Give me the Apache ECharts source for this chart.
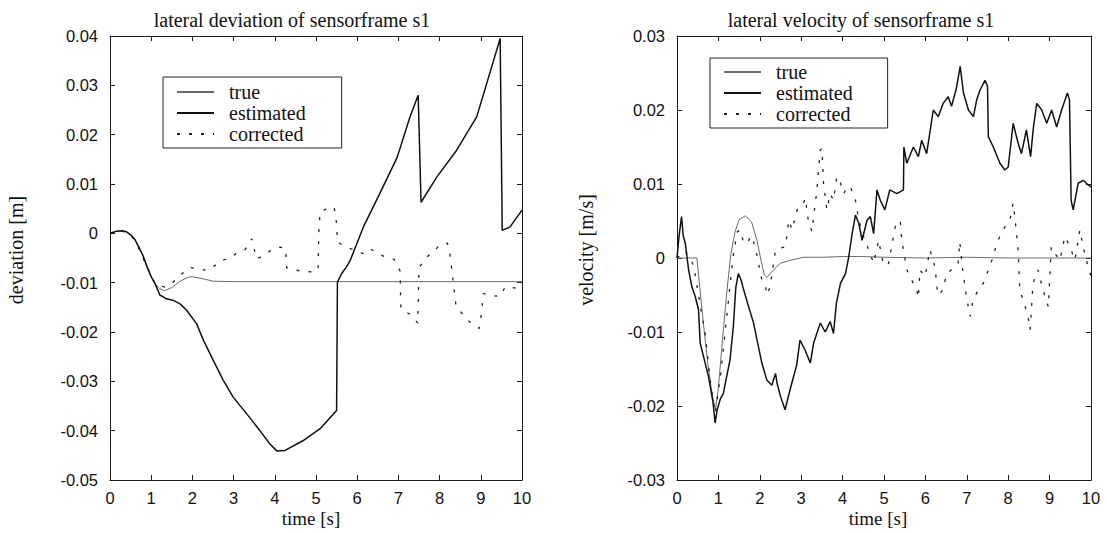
<!DOCTYPE html>
<html>
<head>
<meta charset="utf-8">
<script src="https://cdn.jsdelivr.net/npm/echarts@6/dist/echarts.min.js"></script>
<style>
html,body{margin:0;padding:0;background:#fff;}
#chart{width:1107px;height:533px;}
</style>
</head>
<body>
<div id="chart"></div>
<script>
// ---------- tick labels ----------
const timeTickLabels = ['0','1','2','3','4','5','6','7','8','9','10'];
const devTickLabels = ['-0.05','-0.04','-0.03','-0.02','-0.01','0','0.01','0.02','0.03','0.04'];
const velTickLabels = ['-0.03','-0.02','-0.01','0','0.01','0.02','0.03'];
const seriesNames = ['true','estimated','corrected'];

// ---------- left: lateral deviation ----------
const devTrueT = [0,0.15,0.3,0.4,0.5,0.6,0.7,0.8,0.9,1.0,1.1,1.2,1.33,1.5,1.7,1.9,2.0,2.2,2.5,3,4,5,6,7,8,9,10];
const devTrueV = [0,0.0004,0.0005,0.0003,-0.0003,-0.0012,-0.0028,-0.0045,-0.0068,-0.0088,-0.0103,-0.0112,-0.0116,-0.0110,-0.0097,-0.0089,-0.0088,-0.0091,-0.0097,-0.0098,-0.0098,-0.0098,-0.0098,-0.0098,-0.0098,-0.0098,-0.0098];

const devEstT = [0,0.15,0.3,0.4,0.5,0.6,0.7,0.8,0.9,1.0,1.1,1.21,1.35,1.54,1.7,1.86,2.1,2.27,2.51,2.75,2.99,3.32,3.64,3.88,4.05,4.25,4.69,5.1,5.5,5.52,5.62,5.74,5.83,6.15,6.55,6.97,7.28,7.48,7.55,7.93,8.41,8.9,9.47,9.52,9.71,10];
const devEstV = [0,0.0004,0.0005,0.0003,-0.0003,-0.0012,-0.0028,-0.0045,-0.0068,-0.0088,-0.0103,-0.0125,-0.0132,-0.0136,-0.0143,-0.0156,-0.0183,-0.0217,-0.0258,-0.0298,-0.0332,-0.0366,-0.0400,-0.0427,-0.0441,-0.0440,-0.0420,-0.0396,-0.0359,-0.0099,-0.0082,-0.0068,-0.0055,0.0013,0.0081,0.0154,0.0236,0.0280,0.0063,0.0114,0.0168,0.0236,0.0395,0.0006,0.0013,0.0047];

const devCorT = [0,0.3,0.6,0.9,1.1,1.33,1.5,1.7,1.94,2.18,2.38,2.55,2.69,2.91,3.11,3.28,3.44,3.5,3.54,3.72,3.92,4.13,4.26,4.29,4.47,4.65,4.88,5.05,5.07,5.1,5.26,5.44,5.5,5.52,5.74,6.15,6.31,6.55,6.72,6.9,7.04,7.06,7.32,7.47,7.5,7.69,7.89,8.01,8.19,8.25,8.4,8.68,8.82,8.96,9.02,9.06,9.26,9.47,9.59,9.77,9.91,10];
const devCorV = [0,0.0005,-0.0012,-0.0068,-0.0103,-0.0109,-0.0102,-0.0085,-0.0069,-0.0073,-0.0075,-0.0065,-0.0055,-0.0051,-0.0038,-0.0033,-0.0011,-0.0031,-0.0051,-0.0047,-0.0033,-0.0028,-0.0031,-0.0070,-0.0073,-0.0077,-0.0078,-0.0075,0.0006,0.0043,0.0050,0.0053,0.0020,-0.0018,-0.0028,-0.0041,-0.0031,-0.0043,-0.0049,-0.0053,-0.0076,-0.0153,-0.0166,-0.0182,-0.0070,-0.0048,-0.0034,-0.0023,-0.0020,-0.0041,-0.0148,-0.0176,-0.0185,-0.0193,-0.0160,-0.0122,-0.0126,-0.0128,-0.0109,-0.0110,-0.0112,-0.0110];

// ---------- right: lateral velocity ----------
const velTrueT = [0,0.48,0.55,0.65,0.75,0.85,0.93,1.0,1.1,1.2,1.3,1.4,1.5,1.65,1.8,1.93,2.01,2.11,2.17,2.33,2.5,2.74,3.06,3.5,4.03,4.5,5,6,7,8,9,10];
const velTrueV = [0,0,-0.004,-0.0095,-0.0145,-0.0185,-0.0205,-0.0175,-0.011,-0.0048,0.0005,0.0035,0.0052,0.0057,0.0049,0.0024,0.0002,-0.0023,-0.0026,-0.0016,-0.0007,-0.0003,0.0001,0.0001,0.0002,0.0002,0.0001,0,0.0001,0,0,0];

const velEstT = [0,0.05,0.11,0.15,0.2,0.28,0.36,0.44,0.52,0.56,0.64,0.76,0.87,0.92,0.97,1.05,1.12,1.2,1.28,1.36,1.42,1.48,1.55,1.61,1.73,1.85,1.93,2.05,2.17,2.29,2.38,2.42,2.5,2.61,2.73,2.89,2.97,3.09,3.22,3.3,3.46,3.58,3.7,3.78,3.85,3.95,4.07,4.15,4.23,4.31,4.39,4.47,4.59,4.67,4.75,4.83,4.91,5.02,5.14,5.31,5.47,5.48,5.55,5.71,5.83,5.91,6.03,6.19,6.31,6.43,6.55,6.63,6.74,6.84,6.92,7.04,7.16,7.24,7.32,7.44,7.5,7.52,7.64,7.8,7.92,8.0,8.12,8.24,8.32,8.44,8.54,8.61,8.69,8.81,8.93,9.05,9.17,9.29,9.43,9.48,9.52,9.57,9.69,9.81,9.93,10];
const velEstV = [0,0.003,0.0056,0.003,0.002,-0.0016,-0.0039,-0.0052,-0.007,-0.0115,-0.0133,-0.016,-0.0195,-0.0223,-0.0205,-0.019,-0.0183,-0.016,-0.0138,-0.0093,-0.004,-0.0021,-0.003,-0.0043,-0.0066,-0.0088,-0.011,-0.0142,-0.0165,-0.0172,-0.0156,-0.017,-0.0187,-0.0205,-0.0178,-0.0145,-0.0111,-0.0124,-0.0142,-0.0115,-0.0088,-0.01,-0.0086,-0.0102,-0.0061,-0.0034,-0.0021,0.0002,0.0033,0.0058,0.0047,0.0024,0.0051,0.0056,0.0033,0.0092,0.0078,0.0065,0.0092,0.0087,0.0092,0.015,0.0128,0.015,0.0137,0.0159,0.0141,0.02,0.0191,0.0209,0.0218,0.0205,0.0227,0.0259,0.0223,0.02,0.0191,0.0214,0.0227,0.024,0.0232,0.0164,0.015,0.0128,0.0119,0.0123,0.0182,0.0155,0.0141,0.0173,0.0137,0.0177,0.0209,0.02,0.0182,0.02,0.0177,0.02,0.0223,0.0214,0.0078,0.0065,0.0101,0.0105,0.0099,0.0096];

const velCorT = [0,0.2,0.4,0.55,0.68,0.8,0.92,1.05,1.2,1.35,1.45,1.53,1.61,1.69,1.8,1.89,2.05,2.13,2.17,2.25,2.38,2.46,2.62,2.7,2.78,2.9,3.02,3.1,3.18,3.26,3.32,3.38,3.46,3.5,3.54,3.62,3.7,3.78,3.86,3.95,4.03,4.1,4.19,4.31,4.39,4.51,4.63,4.75,4.87,4.98,5.1,5.27,5.39,5.43,5.55,5.67,5.79,5.83,5.87,5.99,6.11,6.23,6.3,6.43,6.51,6.63,6.79,6.83,6.91,6.99,7.08,7.15,7.28,7.4,7.52,7.64,7.72,7.8,7.92,8.04,8.12,8.16,8.24,8.28,8.36,8.48,8.53,8.6,8.72,8.84,8.97,9.04,9.13,9.25,9.37,9.49,9.61,9.73,9.81,9.93,10];
const velCorV = [0,0.001,-0.001,-0.006,-0.0102,-0.0165,-0.021,-0.016,-0.008,0,0.0035,0.0038,0.002,0.002,0.003,0.0015,-0.003,-0.0036,-0.005,-0.0039,0.0011,0.0013,0.0015,0.0051,0.0038,0.0065,0.0069,0.0081,0.0047,0.0036,0.0065,0.0092,0.0146,0.0148,0.0101,0.0065,0.0087,0.0078,0.011,0.0101,0.0087,0.0096,0.0096,0.0078,0.0051,0.0029,0.0011,-0.0007,0.0024,-0.0007,-0.001,0.0042,0.0051,0.0024,-0.0016,-0.003,-0.0043,-0.0054,-0.0016,-0.0025,0.0011,-0.0012,-0.005,-0.0043,-0.0021,-0.0016,-0.0007,0.0022,-0.0021,-0.0052,-0.0079,-0.0057,-0.0043,-0.0034,-0.0016,0.0002,0.002,0.0029,0.0042,0.0051,0.0074,0.0056,0.0011,-0.0043,-0.0057,-0.0079,-0.0097,-0.0034,-0.0016,-0.0043,-0.0066,0.0015,0.0006,-0.0003,0.0029,0.0015,-0.0003,0.0038,0.0015,-0.0012,-0.0025];

// ---------- helpers ----------
function pairs(t, v){ return t.map((x,i)=>[x, v[i]]); }
function labelFrom(labels, min, interval){
  return function(val){ const i = Math.round((val - min)/interval); return labels[i] !== undefined ? labels[i] : ''; };
}
const AX = '#1a1a1a';
const tickFont = {fontFamily:'"Liberation Sans", Arial, sans-serif', fontSize:16.5, color:'#111'};
function xAx(grid, pos, show){
  return {type:'value', gridIndex:grid, position:pos, min:0, max:10, interval:1,
    axisLine:{show:true, onZero:false, lineStyle:{color:AX, width:1}},
    axisTick:{show:true, inside:true, length:5, lineStyle:{color:AX}},
    axisLabel: show ? Object.assign({show:true, margin:9, formatter:labelFrom(timeTickLabels,0,1)}, tickFont) : {show:false},
    splitLine:{show:false}};
}
function yAx(grid, pos, show, min, max, labels){
  return {type:'value', gridIndex:grid, position:pos, min:min, max:max, interval:0.01,
    axisLine:{show:true, onZero:false, lineStyle:{color:AX, width:1}},
    axisTick:{show:true, inside:true, length:5, lineStyle:{color:AX}},
    axisLabel: show ? Object.assign({show:true, margin:12, formatter:labelFrom(labels,min,0.01)}, tickFont) : {show:false},
    splitLine:{show:false}};
}
const styles = {
  'true': {color:'#6a6a6a', width:1, type:'solid'},
  'estimated': {color:'#111', width:1.5, type:'solid'},
  'corrected': {color:'#222', width:1.3, type:[3,9]}
};
function ser(name, data, xi, yi){
  return {name:name, type:'line', data:data, xAxisIndex:xi, yAxisIndex:yi, symbol:'none', smooth:false,
    lineStyle:Object.assign({}, styles[name]), itemStyle:{color:styles[name].color}, animation:false, z: name==='estimated'?3:2};
}
const serifFont = '"Liberation Serif", "Times New Roman", serif';
function legend(left, top, pad){
  return {orient:'vertical', left:left, top:top, data:seriesNames, itemWidth:37, itemHeight:14, itemGap:1,
    padding:pad, borderColor:'#222', borderWidth:1, backgroundColor:'#fff', selectedMode:false,
    itemStyle:{opacity:0, color:'rgba(0,0,0,0)', borderColor:'rgba(0,0,0,0)', borderWidth:0},
    textStyle:{fontFamily:serifFont, fontSize:20, color:'#111', lineHeight:19, padding:[0,0,0,10]}};
}
function txt(s, x, y, rot, size){
  return {type:'text', x:x, y:y, rotation:rot||0, silent:true,
    style:{text:s, font:(size||20) + 'px ' + serifFont, fill:'#111', textAlign:'center', textVerticalAlign:'middle'}};
}

const chart = echarts.init(document.getElementById('chart'), null, {renderer:'svg'});
chart.setOption({
  animation:false,
  backgroundColor:'#fff',
  grid:[{left:110, top:36, width:412, height:444, show:false},
        {left:677, top:36, width:414, height:444, show:false}],
  xAxis:[xAx(0,'bottom',true), xAx(0,'top',false), xAx(1,'bottom',true), xAx(1,'top',false)],
  yAxis:[yAx(0,'left',true,-0.05,0.04,devTickLabels), yAx(0,'right',false,-0.05,0.04,devTickLabels),
         yAx(1,'left',true,-0.03,0.03,velTickLabels), yAx(1,'right',false,-0.03,0.03,velTickLabels)],
  legend:[legend(163,77,[5,36,4,13]), legend(710,58,[4,35,4,13])],
  series:[
    ser('true', pairs(devTrueT, devTrueV), 0, 0),
    ser('estimated', pairs(devEstT, devEstV), 0, 0),
    ser('corrected', pairs(devCorT, devCorV), 0, 0),
    ser('true', pairs(velTrueT, velTrueV), 2, 2),
    ser('estimated', pairs(velEstT, velEstV), 2, 2),
    ser('corrected', pairs(velCorT, velCorV), 2, 2)
  ],
  graphic:[
    txt('lateral deviation of sensorframe s1', 292, 20),
    txt('lateral velocity of sensorframe s1', 861, 20),
    txt('time [s]', 311, 518, 0, 19),
    txt('time [s]', 878, 518, 0, 19),
    txt('deviation [m]', 16, 250, Math.PI/2),
    txt('velocity [m/s]', 586, 250, Math.PI/2)
  ]
});
</script>
</body>
</html>
